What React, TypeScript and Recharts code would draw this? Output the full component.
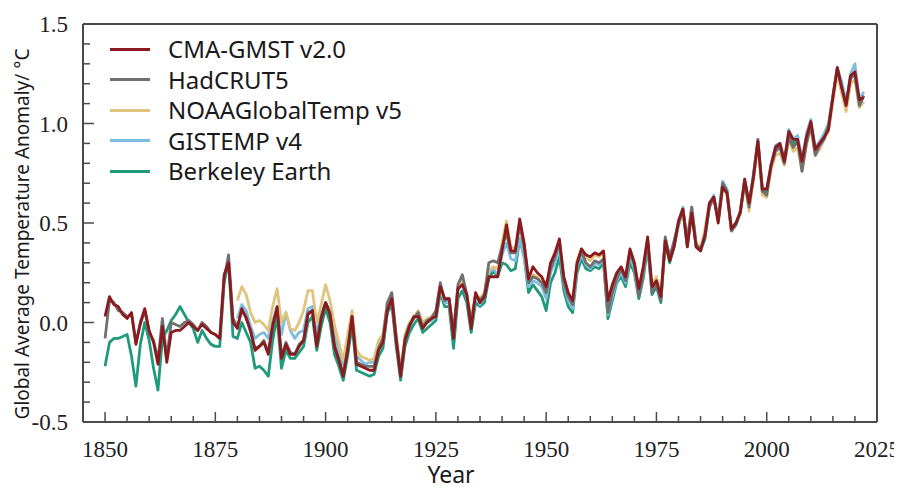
import React from "react";
import { LineChart, Line, XAxis, YAxis, Legend } from "recharts";

// ---------- data ----------
const START_YEAR = 1850; // CMA-GMST, HadCRUT5, Berkeley Earth
const NOAA_GISS_START = 1880; // NOAAGlobalTemp v5, GISTEMP v4

const cmaGmst = [
  0.03, 0.13, 0.09, 0.08, 0.04, 0.02, 0.05, -0.11, 0.00, 0.07,
  -0.04, -0.10, -0.21, -0.02, -0.20, -0.05, -0.04, -0.04, -0.02, 0.00,
  -0.02, -0.04, -0.01, -0.03, -0.05, -0.06, -0.08, 0.24, 0.30, 0.00,
  -0.03, 0.07, 0.02, -0.04, -0.14, -0.12, -0.10, -0.16, -0.02, 0.08,
  -0.18, -0.11, -0.16, -0.16, -0.12, -0.09, 0.04, 0.06, -0.12, 0.02,
  0.10, 0.04, -0.12, -0.19, -0.27, -0.14, 0.03, -0.21, -0.22, -0.23,
  -0.24, -0.24, -0.14, -0.10, 0.06, 0.12, -0.09, -0.27, -0.09, -0.02,
  0.03, 0.03, -0.03, 0.00, 0.02, 0.03, 0.18, 0.12, 0.12, -0.08,
  0.17, 0.19, 0.14, -0.03, 0.15, 0.10, 0.13, 0.23, 0.23, 0.23,
  0.36, 0.49, 0.36, 0.36, 0.52, 0.40, 0.22, 0.28, 0.25, 0.23,
  0.18, 0.30, 0.35, 0.42, 0.23, 0.15, 0.11, 0.30, 0.37, 0.34,
  0.33, 0.35, 0.34, 0.36, 0.11, 0.19, 0.25, 0.28, 0.23, 0.37,
  0.30, 0.17, 0.28, 0.43, 0.18, 0.21, 0.13, 0.41, 0.31, 0.38,
  0.51, 0.57, 0.38, 0.55, 0.38, 0.36, 0.44, 0.60, 0.63, 0.50,
  0.68, 0.65, 0.47, 0.50, 0.55, 0.72, 0.60, 0.73, 0.91, 0.67,
  0.67, 0.79, 0.88, 0.90, 0.81, 0.96, 0.92, 0.92, 0.81, 0.93,
  1.01, 0.87, 0.90, 0.93, 0.97, 1.13, 1.28, 1.18, 1.09, 1.24,
  1.26, 1.12, 1.13,
];

const hadcrut5 = [
  -0.08, 0.11, 0.10, 0.06, 0.05, 0.03, 0.04, -0.10, -0.01, 0.06,
  -0.05, -0.09, -0.19, 0.02, -0.18, 0.00, -0.01, -0.02, 0.00, 0.01,
  -0.01, -0.04, 0.00, -0.02, -0.05, -0.06, -0.08, 0.22, 0.34, 0.02,
  -0.02, 0.06, 0.03, -0.05, -0.13, -0.12, -0.09, -0.15, -0.01, 0.07,
  -0.17, -0.10, -0.15, -0.16, -0.11, -0.09, 0.05, 0.06, -0.11, 0.03,
  0.10, 0.05, -0.11, -0.18, -0.26, -0.13, 0.03, -0.20, -0.21, -0.22,
  -0.22, -0.22, -0.13, -0.08, 0.10, 0.15, -0.07, -0.26, -0.08, -0.01,
  0.02, 0.05, -0.02, 0.01, 0.02, 0.06, 0.20, 0.11, 0.12, -0.05,
  0.19, 0.24, 0.14, 0.00, 0.14, 0.11, 0.14, 0.30, 0.31, 0.30,
  0.38, 0.45, 0.35, 0.35, 0.49, 0.38, 0.20, 0.23, 0.22, 0.20,
  0.15, 0.27, 0.33, 0.40, 0.20, 0.13, 0.09, 0.29, 0.36, 0.30,
  0.28, 0.31, 0.30, 0.32, 0.05, 0.15, 0.22, 0.27, 0.21, 0.35,
  0.29, 0.13, 0.25, 0.41, 0.15, 0.20, 0.11, 0.43, 0.33, 0.41,
  0.50, 0.57, 0.41, 0.58, 0.39, 0.37, 0.43, 0.58, 0.63, 0.52,
  0.70, 0.66, 0.46, 0.49, 0.56, 0.70, 0.58, 0.74, 0.92, 0.66,
  0.64, 0.79, 0.86, 0.88, 0.80, 0.93, 0.88, 0.91, 0.76, 0.90,
  0.99, 0.84, 0.89, 0.92, 0.99, 1.14, 1.28, 1.18, 1.10, 1.23,
  1.24, 1.09, 1.14,
];

const berkeleyEarth = [
  -0.22, -0.10, -0.08, -0.08, -0.07, -0.06, -0.17, -0.32, -0.11, 0.00,
  -0.09, -0.23, -0.34, -0.08, -0.04, 0.01, 0.04, 0.08, 0.04, 0.00,
  -0.03, -0.10, -0.04, -0.08, -0.11, -0.12, -0.12, 0.20, 0.31, -0.07,
  -0.08, 0.00, -0.05, -0.10, -0.23, -0.22, -0.24, -0.27, -0.09, 0.03,
  -0.23, -0.14, -0.18, -0.18, -0.15, -0.12, 0.00, 0.03, -0.14, -0.02,
  0.07, 0.00, -0.16, -0.22, -0.29, -0.17, -0.01, -0.24, -0.25, -0.26,
  -0.27, -0.26, -0.17, -0.13, 0.05, 0.09, -0.12, -0.29, -0.12, -0.05,
  -0.01, 0.02, -0.05, -0.03, -0.01, 0.01, 0.15, 0.08, 0.08, -0.13,
  0.12, 0.16, 0.10, -0.05, 0.10, 0.08, 0.10, 0.22, 0.26, 0.23,
  0.30, 0.29, 0.26, 0.27, 0.42, 0.33, 0.15, 0.19, 0.16, 0.13,
  0.06, 0.20, 0.25, 0.33, 0.16, 0.08, 0.05, 0.25, 0.32, 0.27,
  0.26, 0.28, 0.27, 0.30, 0.02, 0.11, 0.20, 0.23, 0.18, 0.30,
  0.25, 0.12, 0.22, 0.38, 0.14, 0.18, 0.10, 0.40, 0.30, 0.38,
  0.49, 0.56, 0.38, 0.56, 0.38, 0.36, 0.42, 0.58, 0.63, 0.51,
  0.69, 0.65, 0.46, 0.49, 0.55, 0.71, 0.59, 0.73, 0.90, 0.66,
  0.66, 0.79, 0.87, 0.89, 0.80, 0.94, 0.90, 0.92, 0.79, 0.92,
  1.00, 0.86, 0.89, 0.93, 0.98, 1.13, 1.27, 1.18, 1.09, 1.23,
  1.25, 1.10, 1.14,
];

const noaaGlobalTemp = [
  0.11, 0.18, 0.14, 0.05, 0.00, 0.01, -0.01, -0.04, 0.08, 0.17,
  0.00, 0.05, -0.03, -0.04, 0.00, 0.06, 0.16, 0.16, 0.00, 0.09,
  0.19, 0.11, -0.01, -0.10, -0.19, -0.06, 0.06, -0.14, -0.17, -0.18,
  -0.19, -0.18, -0.09, -0.06, 0.10, 0.14, -0.06, -0.24, -0.06, 0.00,
  0.03, 0.06, 0.00, 0.02, 0.03, 0.06, 0.18, 0.12, 0.12, -0.04,
  0.18, 0.21, 0.15, 0.02, 0.14, 0.12, 0.15, 0.26, 0.28, 0.27,
  0.40, 0.51, 0.38, 0.37, 0.50, 0.40, 0.21, 0.24, 0.23, 0.21,
  0.17, 0.29, 0.34, 0.41, 0.21, 0.15, 0.10, 0.31, 0.37, 0.33,
  0.31, 0.34, 0.33, 0.35, 0.08, 0.17, 0.24, 0.27, 0.23, 0.36,
  0.30, 0.16, 0.27, 0.42, 0.19, 0.23, 0.14, 0.41, 0.33, 0.40,
  0.50, 0.55, 0.42, 0.58, 0.40, 0.37, 0.47, 0.60, 0.63, 0.51,
  0.68, 0.64, 0.46, 0.50, 0.55, 0.70, 0.56, 0.72, 0.89, 0.64,
  0.63, 0.77, 0.84, 0.85, 0.79, 0.92, 0.86, 0.88, 0.76, 0.89,
  0.98, 0.84, 0.87, 0.92, 0.96, 1.11, 1.25, 1.15, 1.06, 1.20,
  1.22, 1.08, 1.11,
];

const gistempV4 = [
  0.02, 0.09, 0.06, -0.02, -0.08, -0.06, -0.05, -0.08, 0.01, 0.07,
  -0.06, 0.05, -0.04, -0.08, -0.05, -0.04, 0.07, 0.08, -0.06, 0.05,
  0.10, 0.06, -0.07, -0.13, -0.21, -0.10, 0.04, -0.17, -0.19, -0.21,
  -0.20, -0.20, -0.12, -0.10, 0.06, 0.12, -0.08, -0.26, -0.08, -0.02,
  0.02, 0.05, -0.02, 0.00, 0.01, 0.03, 0.17, 0.10, 0.10, -0.07,
  0.16, 0.20, 0.13, -0.02, 0.13, 0.09, 0.13, 0.25, 0.27, 0.24,
  0.34, 0.40, 0.32, 0.31, 0.42, 0.33, 0.18, 0.21, 0.20, 0.18,
  0.12, 0.25, 0.30, 0.37, 0.19, 0.11, 0.07, 0.28, 0.34, 0.29,
  0.27, 0.30, 0.29, 0.31, 0.04, 0.13, 0.21, 0.25, 0.20, 0.33,
  0.27, 0.14, 0.24, 0.40, 0.16, 0.20, 0.12, 0.42, 0.32, 0.40,
  0.51, 0.58, 0.40, 0.58, 0.39, 0.36, 0.44, 0.59, 0.64, 0.52,
  0.71, 0.67, 0.48, 0.50, 0.56, 0.72, 0.60, 0.75, 0.92, 0.68,
  0.67, 0.80, 0.89, 0.90, 0.82, 0.97, 0.92, 0.94, 0.82, 0.95,
  1.02, 0.88, 0.91, 0.95, 1.00, 1.14, 1.28, 1.21, 1.11, 1.25,
  1.30, 1.12, 1.16,
];

const X_TICKS = [
  1850, 1855, 1860, 1865, 1870, 1875, 1880, 1885, 1890, 1895, 1900, 1905,
  1910, 1915, 1920, 1925, 1930, 1935, 1940, 1945, 1950, 1955, 1960, 1965,
  1970, 1975, 1980, 1985, 1990, 1995, 2000, 2005, 2010, 2015, 2020, 2025,
];
const X_LABELS = [1850, 1875, 1900, 1925, 1950, 1975, 2000, 2025];
const Y_TICKS = [
  -0.5, -0.4, -0.3, -0.2, -0.1, 0, 0.1, 0.2, 0.3, 0.4, 0.5, 0.6, 0.7, 0.8,
  0.9, 1.0, 1.1, 1.2, 1.3, 1.4, 1.5,
];
const Y_LABELS = [-0.5, 0, 0.5, 1.0, 1.5];

const SERIES = [
  { key: "cma", name: "CMA-GMST v2.0", color: "#8b1a1e" },
  { key: "had", name: "HadCRUT5", color: "#707070" },
  { key: "noaa", name: "NOAAGlobalTemp v5", color: "#dec47c" },
  { key: "giss", name: "GISTEMP v4", color: "#7fbde0" },
  { key: "berk", name: "Berkeley Earth", color: "#1f9a7b" },
];

const data = cmaGmst.map((v, i) => {
  const year = START_YEAR + i;
  const j = year - NOAA_GISS_START;
  return {
    year,
    cma: v,
    had: hadcrut5[i],
    berk: berkeleyEarth[i],
    noaa: j >= 0 ? noaaGlobalTemp[j] : null,
    giss: j >= 0 ? gistempV4[j] : null,
  };
});

// ---------- styling ----------
const SERIF = '"Liberation Serif", "Times New Roman", serif';
const SANS = '"Noto Sans", sans-serif';
const AXIS = "#4a4a4a";

const XTick = (props: any) => {
  const { x, y, payload } = props;
  const major = X_LABELS.includes(payload.value);
  return (
    <g>
      <line x1={x} y1={y} x2={x} y2={y - (major ? 10 : 6)} stroke={AXIS} strokeWidth={1.5} />
      {major && (
        <text x={x} y={y + 35} textAnchor="middle" fontFamily={SERIF} fontSize={23} fill="#222">
          {payload.value}
        </text>
      )}
    </g>
  );
};

const YTick = (props: any) => {
  const { x, y, payload } = props;
  const major = Y_LABELS.some((v) => Math.abs(v - payload.value) < 1e-9);
  return (
    <g>
      <line x1={x} y1={y} x2={x + (major ? 11 : 7)} y2={y} stroke={AXIS} strokeWidth={1.5} />
      {major && (
        <text x={x - 15} y={y + 8} textAnchor="end" fontFamily={SERIF} fontSize={23} fill="#222">
          {payload.value.toFixed(1)}
        </text>
      )}
    </g>
  );
};

const renderLegend = () => (
  <div style={{ fontFamily: SANS, fontSize: 24, color: "#1a1a1a" }}>
    {SERIES.map((s) => (
      <div key={s.key} style={{ display: "flex", alignItems: "center", height: 30.5 }}>
        <div style={{ width: 40, height: 3, background: s.color }} />
        <span style={{ marginLeft: 18, whiteSpace: "nowrap", lineHeight: "28px" }}>{s.name}</span>
      </div>
    ))}
  </div>
);

const DRAW_ORDER = ["berk", "giss", "noaa", "had", "cma"];

export default function App() {
  return (
    <LineChart
      width={894}
      height={480}
      data={data}
      margin={{ top: 15, right: 24, bottom: 65, left: 74 }}
    >
      <XAxis
        dataKey="year"
        type="number"
        domain={[1845, 2025]}
        ticks={X_TICKS}
        interval={0}
        tickSize={0}
        tickMargin={0}
        tickLine={false}
        tick={<XTick />}
        height={1}
        axisLine={{ stroke: AXIS, strokeWidth: 2 }}
        allowDataOverflow
        label={() => (
          <text x={443} y={475} textAnchor="middle" fontFamily={SANS} fontSize={23} fill="#1a1a1a">
            Year
          </text>
        )}
      />
      <XAxis
        xAxisId="top"
        orientation="top"
        dataKey="year"
        type="number"
        domain={[1845, 2025]}
        tick={false}
        tickLine={false}
        height={1}
        axisLine={{ stroke: AXIS, strokeWidth: 2 }}
      />
      <YAxis
        type="number"
        domain={[-0.5, 1.5]}
        ticks={Y_TICKS}
        interval={0}
        tickSize={0}
        tickMargin={0}
        tickLine={false}
        tick={<YTick />}
        width={1}
        axisLine={{ stroke: AXIS, strokeWidth: 2 }}
        allowDataOverflow
        label={() => (
          <text
            x={14}
            y={226}
            transform="rotate(-90 14 226)"
            textAnchor="middle"
            dominantBaseline="central"
            fontFamily={SANS}
            fontSize={19}
            fill="#1a1a1a"
          >
            Global Average Temperature Anomaly/ °C
          </text>
        )}
      />
      <YAxis
        yAxisId="right"
        orientation="right"
        type="number"
        domain={[-0.5, 1.5]}
        tick={false}
        tickLine={false}
        width={1}
        axisLine={{ stroke: AXIS, strokeWidth: 2 }}
      />
      <Legend
        layout="vertical"
        align="center"
        verticalAlign="middle"
        content={renderLegend}
        wrapperStyle={{ left: 102, top: 26, width: "auto", height: "auto" }}
      />
      {DRAW_ORDER.map((k) => {
        const s = SERIES.find((d) => d.key === k)!;
        return (
          <Line
            key={k}
            type="linear"
            dataKey={k}
            name={s.name}
            stroke={s.color}
            strokeWidth={2.8}
            strokeLinejoin="round"
            dot={false}
            activeDot={false}
            isAnimationActive={false}
          />
        );
      })}
    </LineChart>
  );
}
